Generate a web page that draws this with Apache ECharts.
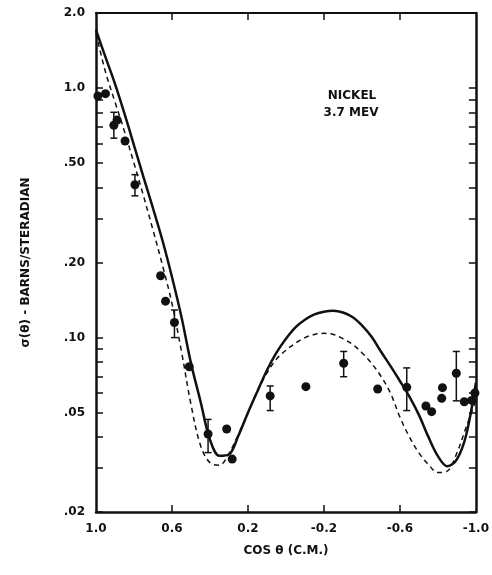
<!DOCTYPE html>
<html><head><meta charset="utf-8">
<script src="https://cdn.jsdelivr.net/npm/echarts@6/dist/echarts.min.js"></script>
<style>html,body{margin:0;padding:0;background:#fff}#c{width:492px;height:575px}</style>
</head><body><div id="c"></div>
<script>
// Measured data points (cos theta C.M., cross section in barns/steradian)
const pointCos   = [0.99, 0.95, 0.906, 0.889, 0.847, 0.795, 0.66, 0.634, 0.587, 0.509, 0.41, 0.312, 0.283, 0.083, -0.105, -0.304, -0.483, -0.636, -0.737, -0.767, -0.82, -0.824, -0.897, -0.939, -0.978, -0.995];
const pointSigma = [0.93, 0.95, 0.71, 0.745, 0.614, 0.41, 0.177, 0.140, 0.115, 0.0764, 0.0411, 0.043, 0.0326, 0.0584, 0.0636, 0.0789, 0.0622, 0.0632, 0.0532, 0.0505, 0.0571, 0.063, 0.072, 0.0553, 0.056, 0.060];
// Error bars
const errCos  = [0.906, 0.795, 0.587, 0.41, 0.083, -0.304, -0.636, -0.897];
const errLow  = [0.63, 0.37, 0.100, 0.0346, 0.051, 0.0697, 0.051, 0.0558];
const errHigh = [0.80, 0.45, 0.129, 0.047, 0.064, 0.088, 0.0756, 0.088];
// Theoretical curves, read at steps of 0.05 in cos theta
const curveCos    = [1.0, 0.95, 0.90, 0.85, 0.80, 0.75, 0.70, 0.65, 0.60, 0.55, 0.50, 0.45, 0.40, 0.35, 0.30, 0.25, 0.20, 0.15, 0.10, 0.05, 0.0, -0.05, -0.10, -0.15, -0.20, -0.25, -0.30, -0.35, -0.40, -0.45, -0.50, -0.55, -0.60, -0.65, -0.70, -0.75, -0.80, -0.85, -0.90, -0.95, -1.0];
const solidSigma  = [1.71, 1.33, 1.04, 0.79, 0.59, 0.44, 0.33, 0.245, 0.175, 0.121, 0.079, 0.0556, 0.039, 0.0336, 0.0340, 0.0405, 0.050, 0.061, 0.074, 0.087, 0.099, 0.110, 0.118, 0.124, 0.127, 0.128, 0.126, 0.121, 0.112, 0.101, 0.088, 0.077, 0.067, 0.058, 0.049, 0.040, 0.0335, 0.0305, 0.0325, 0.041, 0.066];
const dashedSigma = [1.66, 1.16, 0.88, 0.67, 0.50, 0.37, 0.27, 0.195, 0.137, 0.088, 0.054, 0.037, 0.0315, 0.0308, 0.0343, 0.041, 0.050, 0.061, 0.072, 0.082, 0.089, 0.095, 0.100, 0.103, 0.104, 0.103, 0.099, 0.094, 0.087, 0.079, 0.070, 0.060, 0.048, 0.040, 0.0345, 0.031, 0.0288, 0.0292, 0.0345, 0.044, 0.056];
// Tick values / labels
const xTickValues = [1.0, 0.6, 0.2, -0.2, -0.6, -1.0];
const xTickLabels = ['1.0', '0.6', '0.2', '-0.2', '-0.6', '-1.0'];
const xInnerTicks = [0.6, 0.2, -0.2, -0.6];
const yTickValues = [2, 1, 0.5, 0.2, 0.1, 0.05, 0.02];
const yTickLabels = ['2.0', '1.0', '.50', '.20', '.10', '.05', '.02'];
const yMinorTicks = [0.02, 0.03, 0.04, 0.05, 0.06, 0.07, 0.08, 0.09, 0.1, 0.2, 0.3, 0.4, 0.5, 0.6, 0.7, 0.8, 0.9, 1, 2];

const ink = '#111';
const font = 'DejaVu Sans';
const zip = (a, b) => a.map((v, i) => [v, b[i]]);
const lookup = (vals, labels) => v => {
  for (let i = 0; i < vals.length; i++) {
    if (Math.abs(vals[i] - v) <= 1e-6 * Math.max(1, Math.abs(vals[i]))) return labels[i];
  }
  return '';
};
const labelStyle = {color: ink, fontFamily: font, fontSize: 12, fontWeight: 'bold'};
const lineStyle = {color: ink, width: 2.5};

const chart = echarts.init(document.getElementById('c'), null, {renderer: 'canvas'});
chart.setOption({
  animation: false,
  backgroundColor: '#fff',
  grid: {left: 96, right: 13, top: 13, bottom: 63},
  xAxis: [{
    type: 'value', min: -1, max: 1, inverse: true, position: 'bottom',
    name: 'COS θ (C.M.)', nameLocation: 'middle', nameGap: 33,
    nameTextStyle: {color: ink, fontFamily: font, fontSize: 12, fontWeight: 'bold'},
    axisLine: {show: true, onZero: false, lineStyle: lineStyle},
    axisTick: {show: true, inside: true, length: 7, customValues: xInnerTicks, lineStyle: {color: ink, width: 1.5}},
    axisLabel: Object.assign({customValues: xTickValues, formatter: lookup(xTickValues, xTickLabels), margin: 11}, labelStyle),
    splitLine: {show: false}
  }, {
    type: 'value', min: -1, max: 1, inverse: true, position: 'top',
    axisLine: {show: true, onZero: false, lineStyle: {color: ink, width: 2}},
    axisTick: {show: true, inside: true, length: 7, customValues: xInnerTicks, lineStyle: {color: ink, width: 1.5}},
    axisLabel: {show: false}, splitLine: {show: false}
  }],
  yAxis: [{
    type: 'log', logBase: 10, min: 0.02, max: 2, position: 'left',
    name: 'σ(θ) - BARNS/STERADIAN', nameLocation: 'middle', nameGap: 64,
    nameTextStyle: {color: ink, fontFamily: font, fontSize: 12, fontWeight: 'bold'},
    axisLine: {show: true, onZero: false, lineStyle: lineStyle},
    axisTick: {show: true, inside: true, length: 7, customValues: yMinorTicks, lineStyle: {color: ink, width: 1.5}},
    axisLabel: Object.assign({customValues: yTickValues, formatter: lookup(yTickValues, yTickLabels), margin: 11}, labelStyle),
    splitLine: {show: false}, minorTick: {show: false}, minorSplitLine: {show: false}
  }, {
    type: 'log', logBase: 10, min: 0.02, max: 2, position: 'right',
    axisLine: {show: true, onZero: false, lineStyle: lineStyle},
    axisTick: {show: true, inside: true, length: 7, customValues: yMinorTicks, lineStyle: {color: ink, width: 1.5}},
    axisLabel: {show: false}, splitLine: {show: false}
  }],
  graphic: [
    {type: 'text', x: 352, y: 96, style: {text: 'NICKEL', fill: ink, font: 'bold 12px "DejaVu Sans"', textAlign: 'center', textVerticalAlign: 'middle'}},
    {type: 'text', x: 351, y: 113, style: {text: '3.7 MEV', fill: ink, font: 'bold 12px "DejaVu Sans"', textAlign: 'center', textVerticalAlign: 'middle'}}
  ],
  series: [
    {type: 'line', name: 'solid', data: zip(curveCos, solidSigma), smooth: 0.35, showSymbol: false, symbol: 'none',
     lineStyle: {color: ink, width: 2.5}, z: 2},
    {type: 'line', name: 'dashed', data: zip(curveCos, dashedSigma), smooth: 0.35, showSymbol: false, symbol: 'none',
     lineStyle: {color: ink, width: 1.5, type: [5, 4]}, z: 2},
    {type: 'custom', name: 'errors', data: errCos.map((c, i) => [c, errLow[i], errHigh[i]]), encode: {x: 0, y: [1, 2]}, z: 3,
     renderItem: (params, api) => {
       const x = api.value(0);
       const lo = api.coord([x, api.value(1)]);
       const hi = api.coord([x, api.value(2)]);
       const w = 3.5, st = {stroke: ink, lineWidth: 1.5};
       return {type: 'group', children: [
         {type: 'line', shape: {x1: lo[0], y1: lo[1], x2: hi[0], y2: hi[1]}, style: st},
         {type: 'line', shape: {x1: lo[0] - w, y1: lo[1], x2: lo[0] + w, y2: lo[1]}, style: st},
         {type: 'line', shape: {x1: hi[0] - w, y1: hi[1], x2: hi[0] + w, y2: hi[1]}, style: st}
       ]};
     }},
    {type: 'scatter', name: 'data', data: zip(pointCos, pointSigma), symbol: 'circle', symbolSize: 9,
     itemStyle: {color: ink, opacity: 1}, z: 4}
  ]
});
</script></body></html>
